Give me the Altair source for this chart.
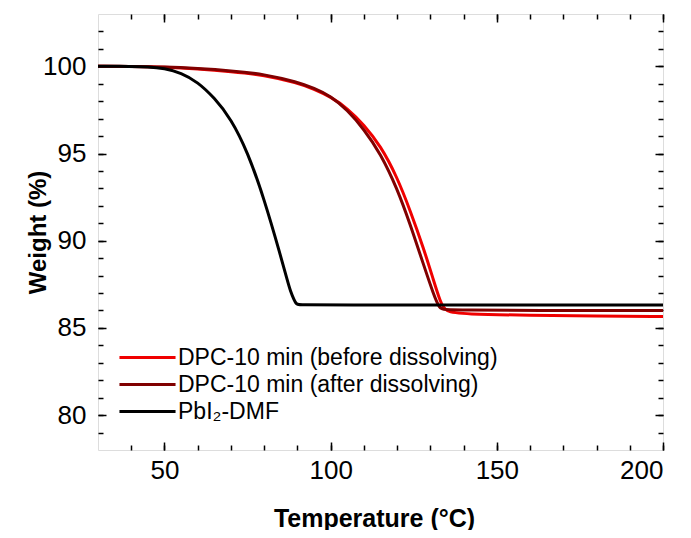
import altair as alt
import pandas as pd

# ---- data ----
series_names = ["DPC-10 min (before dissolving)", "DPC-10 min (after dissolving)", "PbI₂-DMF"]
series_colors = ["#f00000", "#800000", "#000000"]

before_T = [30, 40, 50, 60, 70, 80, 90, 95, 100, 105, 110, 115, 120, 124, 128, 131, 133, 134.5, 140, 160, 180, 200]
before_W = [100, 100, 99.95, 99.85, 99.7, 99.5, 99.05, 98.7, 98.25, 97.6, 96.65, 95.45, 93.65, 91.7, 89.55, 87.7, 86.5, 85.9, 85.8, 85.72, 85.68, 85.65]

after_T = [30, 40, 50, 60, 70, 80, 90, 95, 100, 105, 110, 115, 120, 124, 128, 131, 132.8, 134, 140, 160, 200]
after_W = [100, 100, 99.97, 99.88, 99.75, 99.55, 99.1, 98.75, 98.3, 97.5, 96.4, 95.0, 93.0, 90.9, 88.6, 86.9, 86.1, 86.05, 86.02, 86.0, 86.0]

pbi2_T = [30, 40, 45, 50, 55, 60, 65, 70, 75, 80, 85, 87, 88, 89, 89.5, 90, 91, 100, 150, 200]
pbi2_W = [100, 100, 99.98, 99.88, 99.63, 99.1, 98.2, 97.0, 95.1, 92.4, 89.1, 87.7, 87.05, 86.6, 86.43, 86.35, 86.32, 86.32, 86.32, 86.32]

x_major = [50, 100, 150, 200]
x_minor = list(range(40, 201, 10))
y_major = [80, 85, 90, 95, 100]
y_minor = list(range(79, 103, 1))

rows = []
for i, (ts, ws) in enumerate([(before_T, before_W), (after_T, after_W), (pbi2_T, pbi2_W)]):
    for t, w in zip(ts, ws):
        rows.append({"series": series_names[i], "order": i, "T": t, "W": w})
df = pd.DataFrame(rows)

FONT = "Liberation Sans"
xs = alt.Scale(domain=[30, 200], nice=False, zero=False)
ys = alt.Scale(domain=[78, 103], nice=False, zero=False)

def ax(orient, values, size, labels, title=None, **kw):
    args = dict(orient=orient, values=values, tickSize=size, offset=-size, domain=False,
                grid=False, labels=labels, ticks=True, tickColor="black", tickWidth=1.5)
    args["title"] = title if title is not None else None
    args.update(kw)
    return alt.Axis(**args)

x_bottom = ax("bottom", x_major, 8, True, "Temperature (°C)",
              labelFontSize=26, labelFont=FONT, labelPadding=7, labelColor="black",
              titleFontSize=25, titleFont=FONT, titleFontWeight="bold", titleColor="black",
              titleX=276, titleY=84, titleBaseline="alphabetic")
y_left = ax("left", y_major, 8, True, "Weight (%)",
            labelFontSize=26, labelFont=FONT, labelPadding=12, labelColor="black",
            titleFontSize=24, titleFont=FONT, titleFontWeight="bold", titleColor="black",
            titleX=-61, titleBaseline="alphabetic")

# legend symbol: a horizontal line 3x the nominal symbol width
SYM = 18.7
lines = alt.Chart(df).mark_line(strokeWidth=3, interpolate="basis").encode(
    x=alt.X("T:Q", scale=xs, axis=x_bottom),
    y=alt.Y("W:Q", scale=ys, axis=y_left),
    color=alt.Color("series:N", scale=alt.Scale(domain=series_names, range=series_colors),
                    legend=alt.Legend(title=None, orient="none", legendX=38, legendY=332,
                                      symbolType="M-3,0H3", symbolSize=SYM * SYM,
                                      symbolStrokeWidth=3, symbolFillColor="transparent",
                                      labelFontSize=23, labelFont=FONT, labelColor="black",
                                      labelLimit=600, labelOffset=19, rowPadding=3, padding=0)),
    order=alt.Order("order:Q"),
)

def ghost(xaxis, yaxis):
    return alt.Chart(df).mark_point(opacity=0).encode(
        x=alt.X("T:Q", scale=xs, axis=xaxis),
        y=alt.Y("W:Q", scale=ys, axis=yaxis),
    )

g1 = ghost(ax("top", x_major, 8, False), ax("right", y_major, 8, False))
g2 = ghost(ax("bottom", x_minor, 5, False), ax("left", y_minor, 5, False))
g3 = ghost(ax("top", x_minor, 5, False), ax("right", y_minor, 5, False))

chart = alt.layer(lines, g1, g2, g3).resolve_axis(x="independent", y="independent").properties(
    width=565, height=436,
    autosize=alt.AutoSizeParams(type="none"),
    padding={"left": 90, "top": 6, "right": 20, "bottom": 80},
).configure_view(stroke="black", strokeWidth=1.5).configure(background="white")

chart.save("out.html", embed_options={"renderer": "svg", "actions": False})
